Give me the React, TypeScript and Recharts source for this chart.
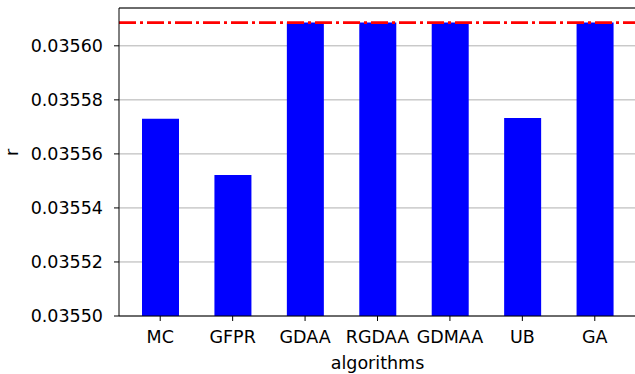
import { BarChart, Bar, XAxis, YAxis, CartesianGrid, ReferenceLine, Label } from 'recharts';

const algorithms = ['MC', 'GFPR', 'GDAA', 'RGDAA', 'GDMAA', 'UB', 'GA'];
const rValues = [0.035573, 0.0355522, 0.0356086, 0.0356086, 0.0356086, 0.0355733, 0.0356086];
const yTicks = [0.0355, 0.03552, 0.03554, 0.03556, 0.03558, 0.0356];
const yMin = 0.0355;
const yMax = 0.035614;
const upperBound = 0.0356086;

const FONT = '"DejaVu Sans", sans-serif';

export default function App() {
    const data = algorithms.map((name, i) => ({ name, r: rValues[i] }));

    return (
        <div style={{ position: 'absolute', left: 0, top: 0, width: 635, height: 374, overflow: 'hidden', background: '#fff' }}>
            <BarChart
                width={640}
                height={374}
                data={data}
                margin={{ top: 8, right: 4, bottom: 0, left: 0 }}
                barCategoryGap="25%"
                style={{ fontFamily: FONT }}
            >
                <CartesianGrid vertical={false} stroke="#b0b0b0" strokeWidth={1} />
                <XAxis
                    dataKey="name"
                    stroke="#000"
                    tickSize={5}
                    tickMargin={10}
                    padding={{ left: 5, right: 5 }}
                    tick={{ fill: '#000', fontSize: 17.5, fontFamily: FONT }}
                    height={58}
                >
                    <Label value="algorithms" position="insideBottom" offset={5} fill="#000" fontSize={17.5} fontFamily={FONT} />
                </XAxis>
                <YAxis
                    width={119}
                    domain={[yMin, yMax]}
                    ticks={yTicks}
                    allowDataOverflow
                    stroke="#000"
                    tickSize={5}
                    tickMargin={11}
                    tickFormatter={(v: number) => v.toFixed(5)}
                    tick={{ fill: '#000', fontSize: 17.5, fontFamily: FONT }}
                >
                    <Label value="r" angle={-90} position="insideLeft" offset={12} fill="#000" fontSize={17.5} fontFamily={FONT} dy={-6} />
                </YAxis>
                <ReferenceLine y={yMax} stroke="#000" strokeWidth={1.2} ifOverflow="visible" />
                <Bar dataKey="r" fill="#0000ff" barSize={37} isAnimationActive={false} />
                <ReferenceLine
                    y={upperBound}
                    stroke="#ff0000"
                    strokeWidth={2.6}
                    strokeDasharray="17 4 3 4"
                />
            </BarChart>
        </div>
    );
}
